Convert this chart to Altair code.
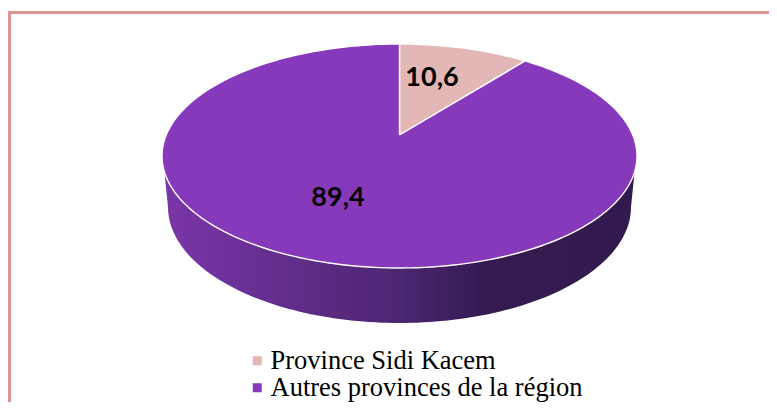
import math
import altair as alt
import pandas as pd

NAMES = ["Province Sidi Kacem", "Autres provinces de la région"]
VALUES = [10.6, 89.4]
LABELS = ["10,6", "89,4"]
COLORS = ["#e3b7b5", "#8739bc"]
LABEL_X = [432, 338]
LABEL_Y = [78, 198]

CX, CY, RX, RY = 399.5, 156, 237.5, 112
APEX = 0.1875
LOW_CY, LOW_RX, LOW_RY = 207, 231.5, 116
STEPS = 240


def project(theta):
    d = 1 + APEX * math.cos(theta)
    px = math.sin(theta) * math.sqrt(1 - APEX ** 2) / d
    py = (math.cos(theta) + APEX) / d
    return CX + RX * px, CY - RY * py


rows = []
start = 0.0
total = sum(VALUES)
for name, value in zip(NAMES, VALUES):
    end = start + value / total * 2 * math.pi
    rows.append({"name": name, "i": 0, "x": CX, "y": CY - RY * APEX})
    n = max(2, int(STEPS * value / total))
    for k in range(n + 1):
        x, y = project(start + (end - start) * k / n)
        rows.append({"name": name, "i": k + 1, "x": x, "y": y})
    rows.append({"name": name, "i": n + 2, "x": CX, "y": CY - RY * APEX})
    start = end
slices = pd.DataFrame(rows)

wall = []
for k in range(121):
    t = math.radians(90 + 180 * k / 120)
    wall.append({"i": k, "x": CX + LOW_RX * math.sin(t), "y": LOW_CY - LOW_RY * math.cos(t)})
for k in range(121):
    t = math.radians(261.8 - 163.6 * k / 120)
    wall.append({"i": 121 + k, "x": CX + RX * math.sin(t), "y": CY - RY * math.cos(t)})
wall = pd.DataFrame(wall)

labels = pd.DataFrame({"text": LABELS, "x": LABEL_X, "y": LABEL_Y})

X = alt.Scale(domain=[8, 769], range=[0, 761], nice=False, zero=False)
Y = alt.Scale(domain=[8, 402], range=[0, 394], nice=False, zero=False)

wall_layer = alt.Chart(wall).mark_line(
    strokeWidth=0,
    fill=alt.Gradient(
        gradient="linear", x1=0, x2=1, y1=0, y2=0,
        stops=[
            alt.GradientStop(offset=0, color="#7a36a8"),
            alt.GradientStop(offset=0.15, color="#6d3199"),
            alt.GradientStop(offset=0.35, color="#592a80"),
            alt.GradientStop(offset=0.5, color="#4c2672"),
            alt.GradientStop(offset=0.68, color="#341a50"),
            alt.GradientStop(offset=1, color="#321a4e"),
        ],
    ),
).encode(
    x=alt.X("x:Q", scale=X, axis=None),
    y=alt.Y("y:Q", scale=Y, axis=None),
    order="i:Q",
)

slice_layer = alt.Chart(slices).mark_line(stroke="white", strokeWidth=1.4).encode(
    x=alt.X("x:Q", scale=X, axis=None),
    y=alt.Y("y:Q", scale=Y, axis=None),
    fill=alt.Fill(
        "name:N",
        scale=alt.Scale(domain=NAMES, range=COLORS),
        legend=alt.Legend(
            title=None,
            orient="none",
            legendX=236,
            legendY=339.5,
            padding=0,
            symbolType="square",
            symbolSize=81,
            symbolStrokeWidth=0,
            labelFont="Liberation Serif",
            labelFontSize=26.5,
            labelColor="#000000",
            labelLimit=400,
            labelOffset=0,
            rowPadding=-1,
        ),
    ),
    order="i:Q",
)

text_layer = alt.Chart(labels).mark_text(
    font="Lato", fontWeight="bold", fontSize=27, color="#000000"
).encode(
    x=alt.X("x:Q", scale=X, axis=None),
    y=alt.Y("y:Q", scale=Y, axis=None),
    text="text:N",
)

FRAME = "#d99694"
top_rule = alt.Chart(labels).mark_rule(color=FRAME, strokeWidth=3).encode(
    x=alt.value(0), x2=alt.value(761), y=alt.value(4.5)
)
left_rule = alt.Chart(labels).mark_rule(color=FRAME, strokeWidth=3).encode(
    x=alt.value(1.5), y=alt.value(3), y2=alt.value(394)
)

chart = alt.layer(wall_layer, slice_layer, text_layer, top_rule, left_rule).properties(
    width=761,
    height=394,
    padding=0,
    autosize=alt.AutoSizeParams(type="none"),
).configure_view(stroke=None)

chart.save("out.html", embed_options={"renderer": "svg", "actions": False})
